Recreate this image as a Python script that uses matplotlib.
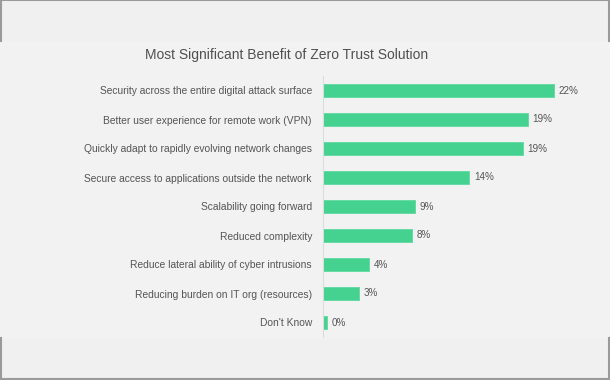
import matplotlib.pyplot as plt
from matplotlib.lines import Line2D

categories = [
    "Security across the entire digital attack surface",
    "Better user experience for remote work (VPN)",
    "Quickly adapt to rapidly evolving network changes",
    "Secure access to applications outside the network",
    "Scalability going forward",
    "Reduced complexity",
    "Reduce lateral ability of cyber intrusions",
    "Reducing burden on IT org (resources)",
    "Don't Know",
]
values = [22.1, 19.6, 19.1, 14.0, 8.8, 8.5, 4.4, 3.4, 0.4]
value_labels = ["22%", "19%", "19%", "14%", "9%", "8%", "4%", "3%", "0%"]

plt.rcParams["font.family"] = ["Liberation Sans", "DejaVu Sans"]

fig = plt.figure(figsize=(6.1, 3.8), dpi=100)
fig.patch.set_facecolor("#f0f0f0")

# lighter middle band
band = plt.Rectangle((0, 1 - 338 / 380), 1, (338 - 41) / 380,
                     transform=fig.transFigure, color="#f2f2f2", zorder=-5)
fig.add_artist(band)

# frame pieces at top and bottom
border = "#9a9a9a"
for xs, ys in [
    ([0, 1], [0.999, 0.999]),
    ([0.001, 0.001], [1, 1 - 41 / 380]),
    ([0.999, 0.999], [1, 1 - 41 / 380]),
    ([0, 1], [0.002, 0.002]),
    ([0.001, 0.001], [0, 1 - 338 / 380]),
    ([0.999, 0.999], [0, 1 - 338 / 380]),
]:
    fig.add_artist(Line2D(xs, ys, transform=fig.transFigure, color=border, lw=1.5))

ax = fig.add_axes([323 / 610, 1 - 337 / 380, 272 / 610, 261 / 380])
ax.set_facecolor("none")
ax.set_zorder(2)

y = list(range(len(categories)))
ax.barh(y, values, height=0.48, color="#45d18f", edgecolor="#5fd9a0", linewidth=0.6)

for yi, v, lab in zip(y, values, value_labels):
    ax.text(v + 0.45, yi, lab, va="center", ha="left", fontsize=7.1, color="#555555")

ax.set_xlim(0, 26)
ax.set_ylim(8.5, -0.5)
ax.set_yticks(y)
ax.set_yticklabels(categories, fontsize=7.4, color="#555555")
ax.tick_params(axis="y", length=0, pad=8)
ax.set_xticks([])

for s in ["top", "right", "bottom"]:
    ax.spines[s].set_visible(False)
ax.spines["left"].set_color("#dcdcdc")
ax.spines["left"].set_linewidth(0.8)

fig.text(287 / 610, 1 - 55 / 380, "Most Significant Benefit of Zero Trust Solution",
         ha="center", va="center", fontsize=10, color="#505050")

fig.savefig("out.png", dpi=100, facecolor=fig.get_facecolor())
